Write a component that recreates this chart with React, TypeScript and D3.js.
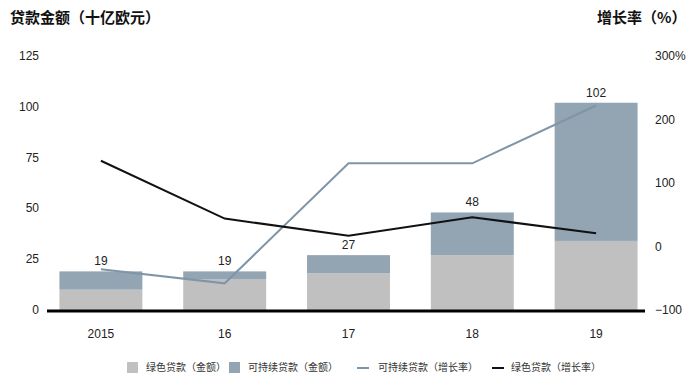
import React from "react";
import * as d3 from "d3";

const categories = ["2015", "16", "17", "18", "19"];
const greenAmount = [10, 15, 18, 27, 34];
const sustainableAmount = [9, 4, 9, 21, 68];
const totalLabels = [19, 19, 27, 48, 102];
const sustainableGrowth = [-36, -58, 131, 131, 222];
const greenGrowth = [135, 44, 17, 46, 21];
const leftTicks = [0, 25, 50, 75, 100, 125];
const rightTicks = [-100, 0, 100, 200, 300];

const W = 700, H = 381;
const numFont = "'Liberation Sans', Arial, sans-serif";
const cjkFont = "'Noto Sans CJK SC', sans-serif";

const C_GREEN = "#c0c0c1";
const C_SUST = "#93a4b2";
const C_SUST_LINE = "#7f95a8";
const C_BLACK = "#111111";

export default function App() {
  const x = d3.scaleBand<string>().domain(categories).range([39, 658]).paddingInner(0.33).paddingOuter(0.165);
  const yL = d3.scaleLinear().domain([0, 125]).range([310, 56]);
  const yR = d3.scaleLinear().domain([-100, 300]).range([310, 56]);
  const cx = (c: string) => (x(c) as number) + x.bandwidth() / 2;

  const line = d3.line<number>().x((_, i) => cx(categories[i])).y((v) => yR(v));

  return (
    <svg width={W} height={H} style={{ position: "absolute", left: 0, top: 0, background: "#fff" }}>
      <text x={10} y={23} fontFamily={cjkFont} fontWeight={700} fontSize={15} fill="#111">贷款金额（十亿欧元）</text>
      <text x={597} y={23} fontFamily={cjkFont} fontWeight={700} fontSize={15} fill="#111">增长率（%）</text>

      {leftTicks.map((t) => (
        <text key={"l" + t} x={39} y={yL(t) + 4} textAnchor="end" fontFamily={numFont} fontSize={12} fill="#222">{t}</text>
      ))}
      {rightTicks.map((t) => (
        <text key={"r" + t} x={655} y={yR(t) + 4} textAnchor="start" fontFamily={numFont} fontSize={12} fill="#222">
          {t < 0 ? "\u2212" + Math.abs(t) : t === 300 ? "300%" : t}
        </text>
      ))}

      {categories.map((c, i) => (
        <g key={c}>
          <rect x={x(c)} y={yL(greenAmount[i])} width={x.bandwidth()} height={yL(0) - yL(greenAmount[i])} fill={C_GREEN} />
          <rect x={x(c)} y={yL(greenAmount[i] + sustainableAmount[i])} width={x.bandwidth()} height={yL(greenAmount[i]) - yL(greenAmount[i] + sustainableAmount[i])} fill={C_SUST} />
          <text x={cx(c)} y={yL(totalLabels[i]) - 6} textAnchor="middle" fontFamily={numFont} fontSize={12} fill="#222">{totalLabels[i]}</text>
          <text x={cx(c)} y={338} textAnchor="middle" fontFamily={numFont} fontSize={12} fill="#222">{c}</text>
        </g>
      ))}

      <line x1={47} x2={645} y1={yL(0) + 1} y2={yL(0) + 1} stroke="#000" strokeWidth={3} />

      <path d={line(sustainableGrowth) || ""} fill="none" stroke={C_SUST_LINE} strokeWidth={2} />
      <path d={line(greenGrowth) || ""} fill="none" stroke={C_BLACK} strokeWidth={2} />

      <g fontFamily={cjkFont} fontSize={10} fill="#333">
        <rect x={127} y={362} width={11} height={11} fill={C_GREEN} />
        <text x={146} y={371}>绿色贷款（金额）</text>
        <rect x={229} y={362} width={11} height={11} fill={C_SUST} />
        <text x={248} y={371}>可持续贷款（金额）</text>
        <line x1={357} x2={369} y1={368} y2={368} stroke={C_SUST_LINE} strokeWidth={2} />
        <text x={378} y={371}>可持续贷款（增长率）</text>
        <line x1={492} x2={504} y1={368} y2={368} stroke={C_BLACK} strokeWidth={2} />
        <text x={511} y={371}>绿色贷款（增长率）</text>
      </g>
    </svg>
  );
}
